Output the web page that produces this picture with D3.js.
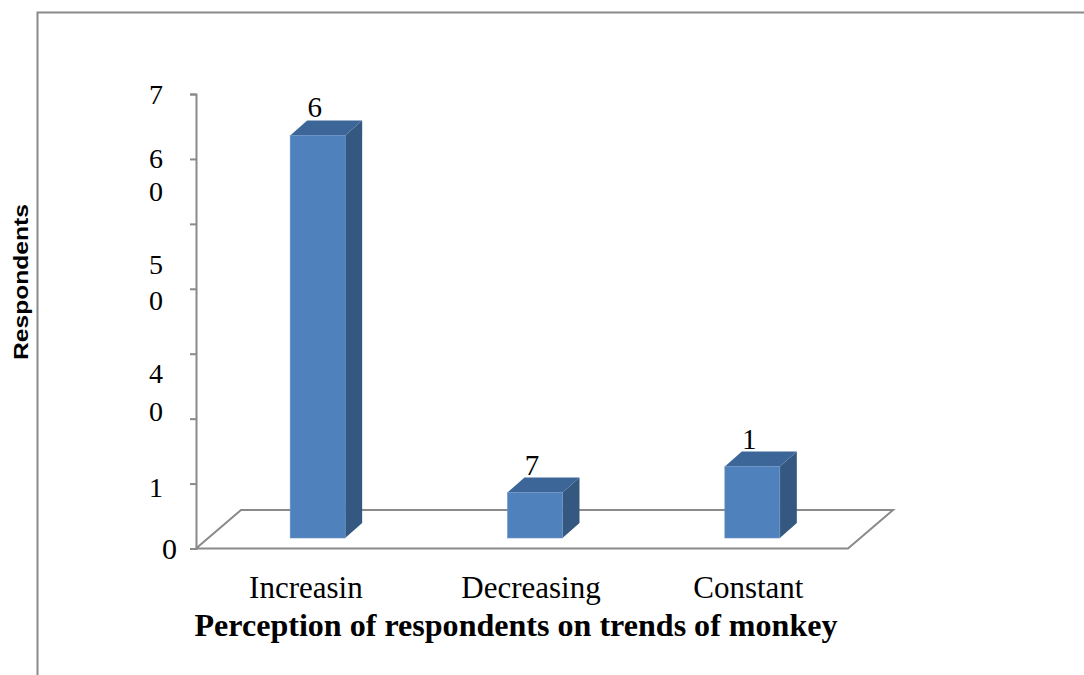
<!DOCTYPE html>
<html>
<head>
<meta charset="utf-8">
<script src="https://cdn.jsdelivr.net/npm/d3@7"></script>
<style>
  html, body { margin: 0; padding: 0; background: #fff; }
  svg { display: block; }
</style>
</head>
<body>
<svg id="chart" width="1084" height="675"></svg>
<script>
// Survey answers: how respondents see the trend of the monkey population
const categories = ["Increasing", "Decreasing", "Constant"];
const shownCategoryLabels = ["Increasin", "Decreasing", "Constant"];
const respondents = [62, 7, 11];
const barLabels = ["6", "7", "1"];

// Axis range and tick values (respondents)
const yDomain = [0, 70];
const yTicks = [0, 10, 20, 30, 40, 50, 60, 70];

// Wrapped value-axis labels: the lines of each label and the values they sit beside
const yLabelLines = [["7"], ["6", "0"], ["5", "0"], ["4", "0"], ["1"]];
const yLabelAt = [[70], [60, 55], [43.8, 38.2], [27, 21.1], [9.4]];

const xTitle = "Perception of respondents on trends of monkey";
const yTitle = "Respondents";

const svg = d3.select("#chart");
const grey = "#8a8a8a";
const serif = "'Liberation Serif', 'Times New Roman', serif";

// Plot geometry
const plot = { left: 196, right: 848, top: 94, bottom: 548.5 };
const floorDepth = { dx: 45, dy: -38.5 };   // oblique depth of the floor
const barShift = { dx: 13, dy: -10.5 };     // bars stand part-way into the floor
const barDepth = { dx: 17, dy: -15 };

const x = d3.scaleBand().domain(categories).range([plot.left, plot.right]).padding(0);
const y = d3.scaleLinear().domain(yDomain).range([plot.bottom, plot.top]);
const barW = 55;

// Outer frame (top and left edges visible)
svg.append("path")
  .attr("d", d3.line()([[37.5, 675], [37.5, 12.5], [1084, 12.5]]))
  .attr("fill", "none").attr("stroke", grey).attr("stroke-width", 2);

// Floor parallelogram
const f0 = y(0);
svg.append("path")
  .attr("d", d3.line()([
    [plot.left, f0],
    [plot.right, f0],
    [plot.right + floorDepth.dx, f0 + floorDepth.dy],
    [plot.left + floorDepth.dx, f0 + floorDepth.dy]
  ]) + "Z")
  .attr("fill", "none").attr("stroke", grey).attr("stroke-width", 2);

// Value axis with tick marks; only the zero label is a plain tick label
const yAxis = svg.append("g")
  .attr("transform", `translate(${plot.left},0)`)
  .call(d3.axisLeft(y).tickValues(yTicks).tickSize(6).tickPadding(13)
    .tickFormat(d => d === 0 ? "0" : ""));
yAxis.select(".domain").attr("stroke", grey).attr("stroke-width", 2);
yAxis.selectAll(".tick line").attr("stroke", grey).attr("stroke-width", 2);
yAxis.selectAll(".tick text")
  .attr("font-family", serif)
  .attr("font-size", 30).attr("fill", "#000").attr("dy", "0.34em");

// Wrapped labels, one text element per label with a tspan per line
const wrapped = svg.append("g").selectAll("text")
  .data(yLabelLines.map((lines, i) => lines.map((t, j) => ({ t, v: yLabelAt[i][j] }))))
  .join("text")
  .attr("text-anchor", "middle")
  .attr("font-family", serif)
  .attr("font-size", 28)
  .attr("fill", "#000");
wrapped.selectAll("tspan")
  .data(d => d)
  .join("tspan")
  .attr("x", 156)
  .attr("y", d => y(d.v) + 9.5)
  .text(d => d.t);

// 3D bars: front, top and right-side faces
const bars = svg.append("g").selectAll("g")
  .data(categories.map((c, i) => ({ c, v: respondents[i], label: barLabels[i] })))
  .join("g");

function frontBox(d) {
  const cx = x(d.c) + x.bandwidth() / 2 + barShift.dx;
  return { x0: cx - barW / 2, x1: cx + barW / 2, yTop: y(d.v) + barShift.dy, yBot: y(0) + barShift.dy };
}

bars.append("path") // side
  .attr("d", d => {
    const b = frontBox(d);
    return d3.line()([[b.x1, b.yBot], [b.x1, b.yTop], [b.x1 + barDepth.dx, b.yTop + barDepth.dy], [b.x1 + barDepth.dx, b.yBot + barDepth.dy]]) + "Z";
  })
  .attr("fill", "#34587f");

bars.append("path") // top
  .attr("d", d => {
    const b = frontBox(d);
    return d3.line()([[b.x0, b.yTop], [b.x1, b.yTop], [b.x1 + barDepth.dx, b.yTop + barDepth.dy], [b.x0 + barDepth.dx, b.yTop + barDepth.dy]]) + "Z";
  })
  .attr("fill", "#3d6698");

bars.append("rect") // front
  .attr("x", d => frontBox(d).x0)
  .attr("y", d => frontBox(d).yTop)
  .attr("width", barW)
  .attr("height", d => frontBox(d).yBot - frontBox(d).yTop)
  .attr("fill", "#4f81bd")
  .attr("stroke", "#6d95c6").attr("stroke-width", 0.6);

bars.append("text")
  .attr("x", d => (frontBox(d).x0 + frontBox(d).x1) / 2 - 3)
  .attr("y", d => frontBox(d).yTop + barDepth.dy - 3)
  .attr("text-anchor", "middle")
  .attr("font-family", serif)
  .attr("font-size", 29)
  .attr("fill", "#000")
  .text(d => d.label);

// Category labels: each line starts where the full category name would start
const catSize = 31;
const measure = svg.append("text")
  .attr("font-family", serif).attr("font-size", catSize)
  .attr("visibility", "hidden");
const catG = svg.append("g");
categories.forEach((c, i) => {
  measure.text(c);
  const fullW = measure.node().getComputedTextLength();
  const cx = x(c) + x.bandwidth() / 2 + 9;
  catG.append("text")
    .attr("x", cx - fullW / 2)
    .attr("y", 598)
    .attr("font-family", serif)
    .attr("font-size", catSize)
    .attr("fill", "#000")
    .text(shownCategoryLabels[i]);
});
measure.remove();

// Axis titles
svg.append("text")
  .attr("x", 516).attr("y", 636)
  .attr("text-anchor", "middle")
  .attr("font-family", serif)
  .attr("font-weight", "bold")
  .attr("font-size", 32)
  .attr("textLength", 643)
  .attr("lengthAdjust", "spacingAndGlyphs")
  .attr("fill", "#000")
  .text(xTitle);

svg.append("text")
  .attr("transform", "translate(28,282) rotate(-90)")
  .attr("text-anchor", "middle")
  .attr("font-family", "'Liberation Sans', Arial, sans-serif")
  .attr("font-weight", "bold")
  .attr("font-size", 21)
  .attr("textLength", 156)
  .attr("lengthAdjust", "spacingAndGlyphs")
  .attr("fill", "#000")
  .text(yTitle);
</script>
</body>
</html>
